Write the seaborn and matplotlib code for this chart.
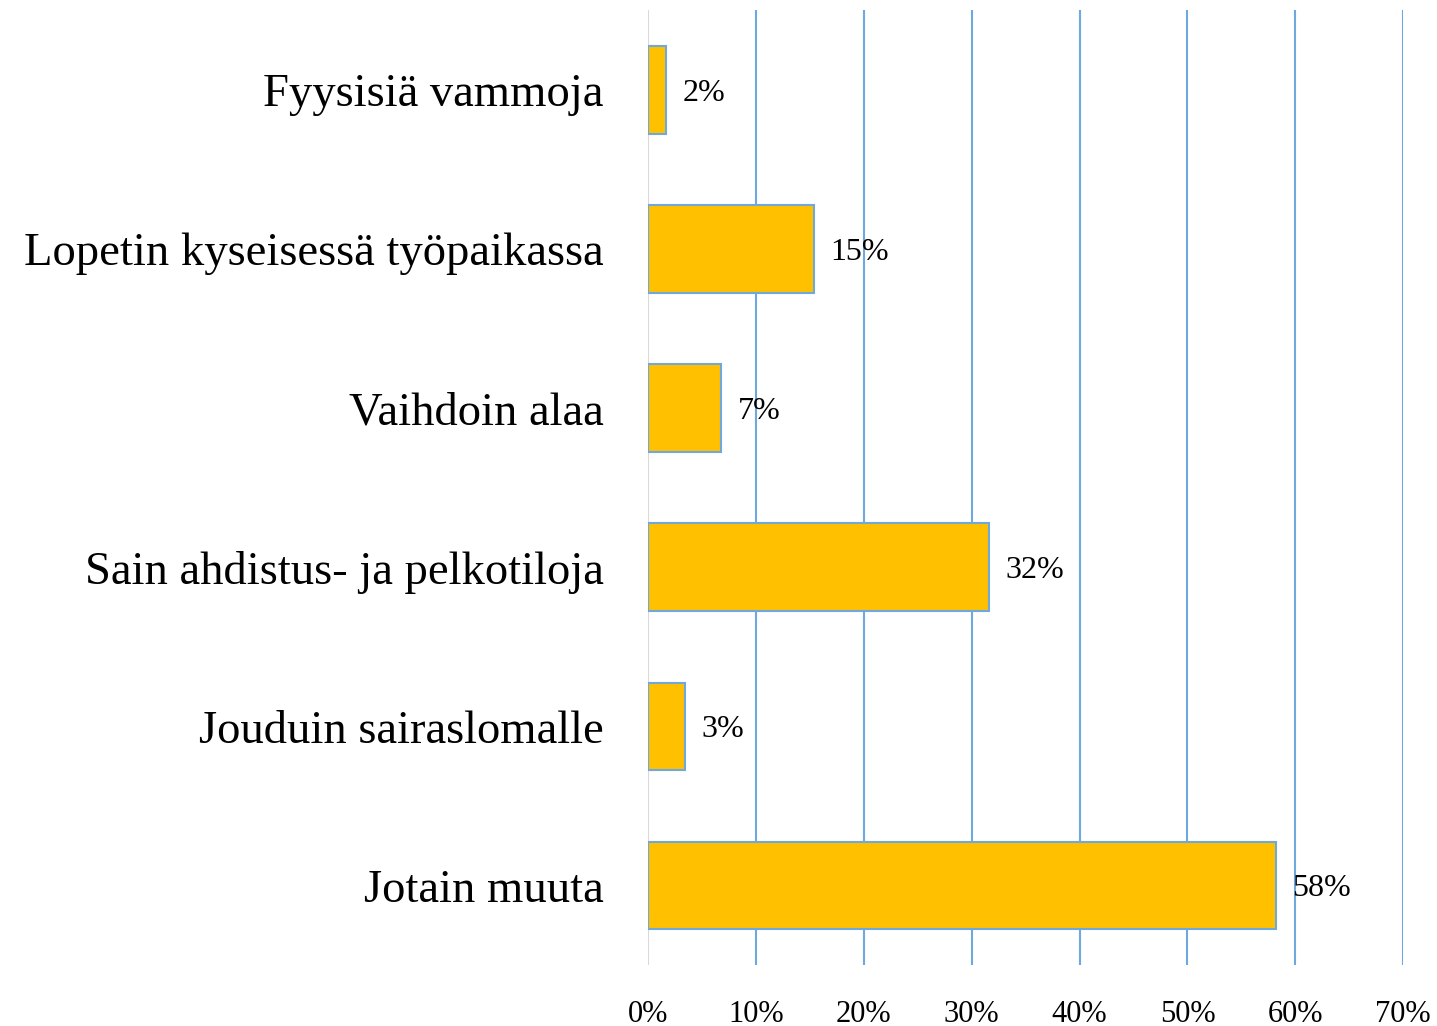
import numpy as np
import pandas as pd
import matplotlib
matplotlib.use("Agg")
import matplotlib.pyplot as plt
import seaborn as sns

# data
categories = ["Fyysisiä vammoja", "Lopetin kyseisessä työpaikassa", "Vaihdoin alaa",
              "Sain ahdistus- ja pelkotiloja", "Jouduin sairaslomalle", "Jotain muuta"]
values = [1.7, 15.4, 6.8, 31.6, 3.4, 58.2]
xticks = [0, 10, 20, 30, 40, 50, 60, 70]

df = pd.DataFrame({"cat": categories, "val": values})

sns.set_style("white")
plt.rcParams['font.family'] = ['Liberation Serif', 'DejaVu Serif']
plt.rcParams['text.color'] = 'black'
plt.rcParams['xtick.color'] = 'black'
plt.rcParams['ytick.color'] = 'black'

fig, ax = plt.subplots(figsize=(14.37, 10.26), dpi=100)
fig.subplots_adjust(left=0.451, right=0.9765, top=0.990, bottom=0.0595)

sns.barplot(data=df, x="val", y="cat", orient="h", color="#FFC000", saturation=1,
            width=0.55, edgecolor="#6FA8DC", linewidth=1.5, ax=ax, zorder=3)

ax.set_xlim(0, 70)
ax.set_ylim(5.5, -0.5)
ax.set_xticks(xticks)
ax.set_xticklabels([f"{t}%" for t in xticks], fontsize=22)
ax.tick_params(axis="x", length=0, pad=25)
ax.tick_params(axis="y", length=0, pad=32, labelsize=33.6)
ax.set_xlabel("")
ax.set_ylabel("")
for s in ax.spines.values():
    s.set_visible(False)

for t in xticks:
    if t == 0:
        ax.axvline(t, color="#D9D9D9", lw=1.5, zorder=1)
    else:
        ax.axvline(t, color="#6FA8DC", lw=1.5, zorder=1)

for i, v in enumerate(values):
    ax.text(v + 1.5, i + 0.02, f"{v:.0f}%", va="center", ha="left", fontsize=23, zorder=4)

fig.savefig("out.png", dpi=100)
